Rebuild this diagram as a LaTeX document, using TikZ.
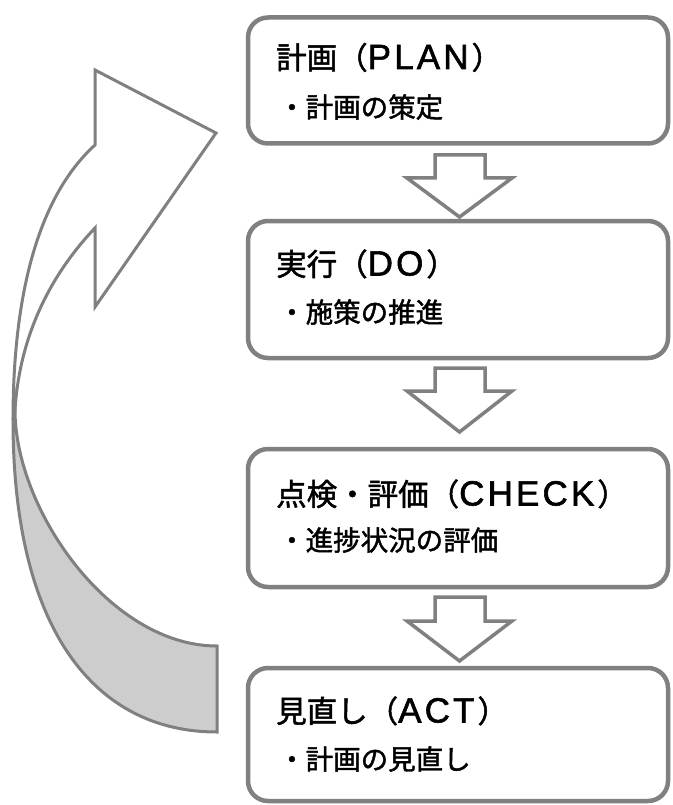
\documentclass[tikz,border=0pt]{standalone}
\usepackage{fontspec}
\newfontfamily\jpfont[FakeBold=1.6]{Noto Sans CJK JP}
\newfontfamily\latfont[LetterSpace=9,FakeBold=1.6]{Liberation Sans}
\newcommand{\LatinPart}[1]{{\latfont\fontsize{35}{35}\selectfont #1}\hspace{3pt}}
\definecolor{edgegray}{HTML}{808080}
\definecolor{backgray}{HTML}{CDCDCD}
\tikzset{
  stepbox/.style={draw=edgegray, line width=4.5pt, fill=white, rounded corners=20pt,
    minimum width=420pt, inner sep=0pt},
  downarrow/.style={draw=edgegray, line width=3.5pt, fill=white, line join=miter},
  curvearrow/.style={draw=edgegray, line width=3pt, line join=miter},
  ttl/.style={anchor=base west, inner sep=0pt, font=\jpfont\fontsize{30.5}{30}\selectfont},
  subline/.style={anchor=base west, inner sep=0pt, font=\jpfont\fontsize{27.5}{28}\selectfont},
}
\begin{document}
\begin{tikzpicture}[x=1pt,y=-1pt]
\useasboundingbox (0,0) rectangle (672,805);

% curved return arrow
\path[curvearrow, fill=backgray]
  (13,420) .. controls (13,630) and (95,732) .. (217,732)
  -- (217,646) .. controls (110,646) and (15,510) .. (15,410) -- cycle;
\path[curvearrow, fill=white]
  (13,420) .. controls (13,290) and (40,195) .. (95,145)
  -- (95,70) -- (216,133) -- (95,307) -- (95,228)
  .. controls (55,270) and (20,330) .. (15,410) -- cycle;

% boxes
\node[stepbox, minimum height=126pt] (plan)  at (458,80.5) {};
\node[stepbox, minimum height=137pt] (do)    at (458,289.5) {};
\node[stepbox, minimum height=138pt] (check) at (458,518) {};
\node[stepbox, minimum height=133pt] (act)   at (458,734.5) {};

% down arrows
\path[downarrow] (435,155) -- (485,155) -- (485,178) -- (512,178) -- (459.5,217) -- (407,178) -- (435,178) -- cycle;
\path[downarrow] (435,368) -- (485,368) -- (485,391) -- (512,391) -- (459.5,432) -- (407,391) -- (435,391) -- cycle;
\path[downarrow] (435,597) -- (485,597) -- (485,621) -- (512,621) -- (459.5,661) -- (407,621) -- (435,621) -- cycle;

% texts
\node[ttl] (plantitle) at (276,69) {計画（\LatinPart{PLAN}）};
\node[subline] (plansub) at (278,117.5) {・計画の策定};
\node[ttl] (dotitle) at (276,275.5) {実行（\LatinPart{DO}）};
\node[subline] (dosub) at (278,322.5) {・施策の推進};
\node[ttl] (checktitle) at (276,505.5) {点検・評価（\LatinPart{CHECK}）};
\node[subline] (checksub) at (278,550.5) {・進捗状況の評価};
\node[ttl] (acttitle) at (276,722.5) {見直し（\LatinPart{ACT}）};
\node[subline] (actsub) at (278,769.5) {・計画の見直し};
\end{tikzpicture}
\end{document}
